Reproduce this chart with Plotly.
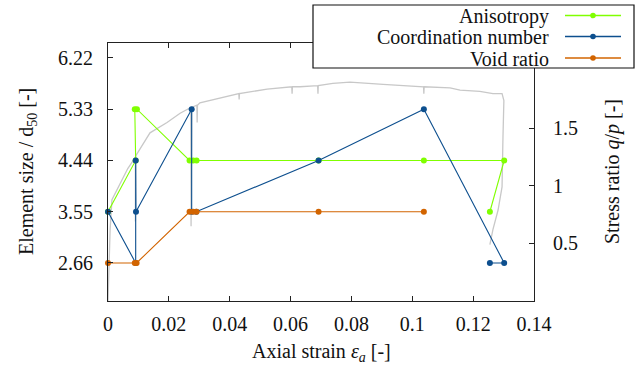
import plotly.graph_objects as go

# ---- data ----
# stress ratio curve (grey), right axis
strain_qp = [0.0, 0.0002, 0.0003, 0.0007, 0.0013, 0.0039, 0.0065, 0.0088, 0.0090, 0.0090, 0.0091,
             0.0138, 0.0194, 0.0237, 0.0268, 0.0272, 0.0273, 0.0275, 0.0292, 0.0293, 0.0294,
             0.0302, 0.0411, 0.0430, 0.0431, 0.0432, 0.0523, 0.0604, 0.0605, 0.0606, 0.0631,
             0.0689, 0.0690, 0.0691, 0.0739, 0.0795, 0.0904, 0.1015, 0.1037, 0.1038, 0.1039,
             0.1124, 0.1157, 0.1222, 0.1265, 0.1295, 0.1301, 0.1298, 0.1295, 0.1282, 0.1265, 0.1255]
qp = [0.0, 0.20, 0.36, 0.62, 0.88, 1.02, 1.15, 1.24, 1.25, 0.69, 1.26,
      1.46, 1.55, 1.63, 1.67, 1.68, 0.65, 1.68, 1.70, 1.55, 1.70,
      1.72, 1.79, 1.80, 1.75, 1.80, 1.84, 1.86, 1.80, 1.86, 1.86,
      1.87, 1.80, 1.87, 1.89, 1.90, 1.88, 1.86, 1.86, 1.80, 1.86,
      1.85, 1.83, 1.82, 1.80, 1.80, 1.74, 1.42, 0.99, 0.79, 0.62, 0.49]

# element size / d50, left axis
aniso_strain = [0.0, 0.0091, 0.0088, 0.0095, 0.0268, 0.0280, 0.0291, 0.0692, 0.1038, 0.1302, 0.1255]
aniso_size = [3.55, 4.44, 5.33, 5.33, 4.44, 4.44, 4.44, 4.44, 4.44, 4.44, 3.55]

coord_strain = [0.0, 0.0091, 0.0091, 0.0092, 0.0275, 0.0275, 0.0290, 0.0692, 0.1038, 0.1302, 0.1255]
coord_size = [3.55, 2.66, 4.44, 3.55, 5.33, 3.55, 3.55, 4.44, 5.33, 2.66, 2.66]

void_strain = [0.0, 0.0088, 0.0094, 0.0268, 0.0280, 0.0291, 0.0692, 0.1038]
void_size = [2.66, 2.66, 2.66, 3.55, 3.55, 3.55, 3.55, 3.55]

series_names = ["Anisotropy", "Coordination number", "Void ratio"]
series_colors = ["#80ff00", "#0d4f8e", "#d26400"]

x_ticks = [0, 0.02, 0.04, 0.06, 0.08, 0.1, 0.12, 0.14]
x_ticktext = ["0", "0.02", "0.04", "0.06", "0.08", "0.1", "0.12", "0.14"]
size_ticks = [2.66, 3.55, 4.44, 5.33, 6.22]
size_ticktext = ["2.66", "3.55", "4.44", "5.33", "6.22"]
qp_ticks = [0.5, 1, 1.5]
qp_ticktext = ["0.5", "1", "1.5"]

# ---- layout geometry ----
W, H = 636, 368
L, R, T, B = 108, 102, 43, 67
PW, PH = W - L - R, H - T - B


def px(x):
    return (x - L) / PW


def py(y):
    return (H - B - y) / PH


FONT = "Liberation Serif"
TXT = "#111111"

fig = go.Figure()
fig.add_trace(go.Scatter(x=strain_qp, y=qp, yaxis="y", mode="lines",
                         line=dict(color="#c8c8c8", width=1.3),
                         showlegend=False, cliponaxis=False, hoverinfo="skip"))

for xs, ys, name, col in [(aniso_strain, aniso_size, series_names[0], series_colors[0]),
                          (coord_strain, coord_size, series_names[1], series_colors[1]),
                          (void_strain, void_size, series_names[2], series_colors[2])]:
    fig.add_trace(go.Scatter(x=xs, y=ys, yaxis="y2", mode="lines+markers", name=name,
                             line=dict(color=col, width=1.1),
                             marker=dict(color=col, size=6, symbol="circle"),
                             showlegend=False, cliponaxis=False))

tick_font = dict(family=FONT, size=20, color=TXT)
axis_common = dict(showline=True, linecolor="#222", linewidth=1, ticks="inside",
                   ticklen=5, tickwidth=1, tickcolor="#222", showgrid=False, zeroline=False)

fig.update_layout(
    width=W, height=H,
    margin=dict(l=L, r=R, t=T, b=B, autoexpand=False),
    paper_bgcolor="white", plot_bgcolor="white",
    font=dict(family=FONT, size=20, color=TXT),
    xaxis=dict(range=[0, 0.14], tickvals=x_ticks, ticktext=x_ticktext, tickfont=tick_font,
               mirror="ticks", ticklabelstandoff=5, **axis_common),
    yaxis=dict(range=[0, 2.24], side="right", tickvals=qp_ticks, ticktext=qp_ticktext,
               tickfont=tick_font, ticklabelstandoff=14, **axis_common),
    yaxis2=dict(range=[2.0, 6.48], side="left", overlaying="y", tickvals=size_ticks,
                ticktext=size_ticktext, tickfont=tick_font, ticklabelstandoff=10, **axis_common),
    showlegend=False,
)

ann_font = dict(family=FONT, size=20, color=TXT)
annotations = [
    dict(text="Axial strain <i>ε</i><sub><i>a</i></sub> [-]", x=0.5, y=py(352), xref="paper", yref="paper",
         xanchor="center", yanchor="middle", showarrow=False, font=ann_font),
    dict(text="Element size / d<sub>50</sub> [-]", x=px(27), y=0.5, xref="paper", yref="paper",
         xanchor="center", yanchor="middle", textangle=-90, showarrow=False, font=ann_font),
    dict(text="Stress ratio <i>q</i>/<i>p</i> [-]", x=px(612), y=0.5, xref="paper", yref="paper",
         xanchor="center", yanchor="middle", textangle=-90, showarrow=False, font=ann_font),
]

# ---- legend (text left, sample right), drawn as shapes + annotations ----
shapes = [dict(type="rect", xref="paper", yref="paper", x0=px(313), x1=px(634), y0=py(68), y1=py(5),
               fillcolor="white", line=dict(color="#111", width=1.2), layer="above")]
rows_y = [16, 37, 58.5]
rx, ry = 2.8 / PW, 2.8 / PH
for name, col, yy in zip(series_names, series_colors, rows_y):
    annotations.append(dict(text=name, x=px(551), y=py(yy), xref="paper", yref="paper",
                            xanchor="right", yanchor="middle", showarrow=False,
                            font=ann_font))
    shapes.append(dict(type="line", xref="paper", yref="paper", x0=px(565), x1=px(621),
                       y0=py(yy - 0.5), y1=py(yy - 0.5), line=dict(color=col, width=1.4),
                       layer="above"))
    cx, cy = px(593), py(yy - 0.5)
    shapes.append(dict(type="circle", xref="paper", yref="paper", x0=cx - rx, x1=cx + rx,
                       y0=cy - ry, y1=cy + ry, fillcolor=col, line=dict(color=col, width=0),
                       layer="above"))

fig.update_layout(annotations=annotations, shapes=shapes)
fig.write_html("out.html")
